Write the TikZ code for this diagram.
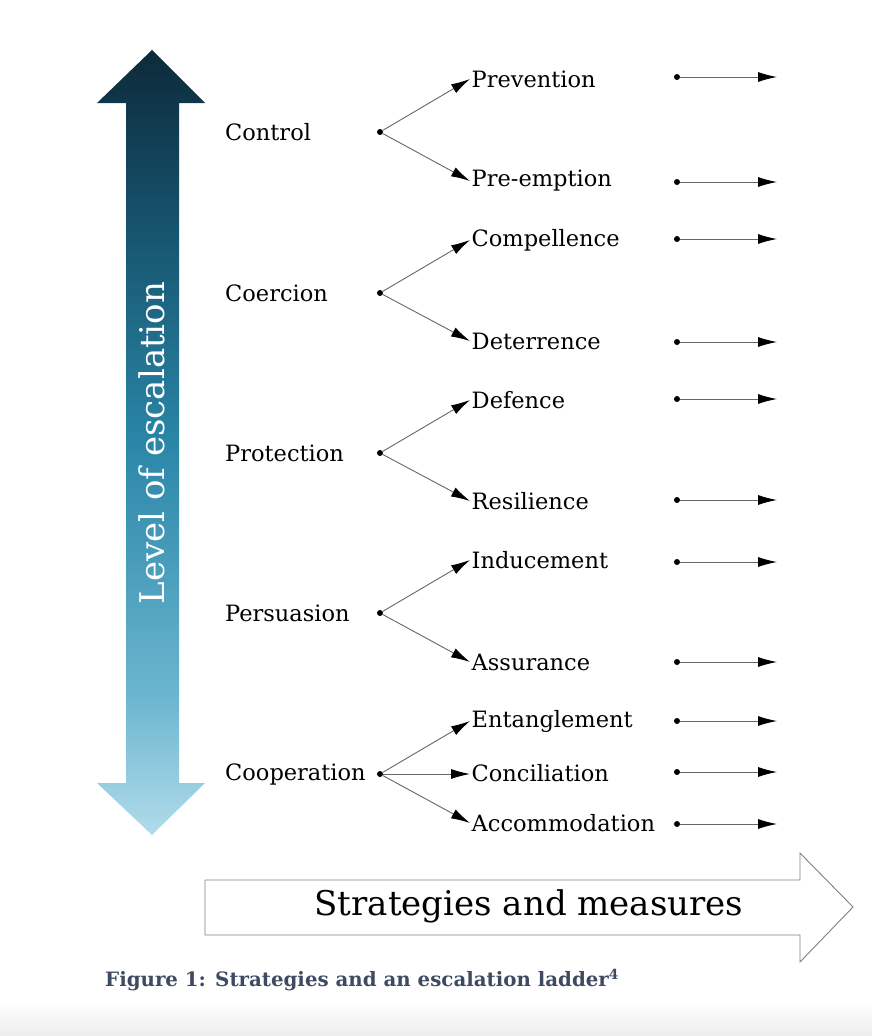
\documentclass[tikz,border=0pt]{standalone}
\usepackage{fontspec}
\setmainfont{DejaVu Serif}
\usepackage{xcolor}
\usetikzlibrary{arrows.meta,positioning}
\definecolor{ladderdark}{HTML}{0E2A3A}
\definecolor{ladderdeep}{HTML}{134B63}
\definecolor{laddermid}{HTML}{2A86A8}
\definecolor{ladderpale}{HTML}{6AB5CF}
\definecolor{ladderlight}{HTML}{B0DCEA}
\definecolor{captionblue}{HTML}{3E4A62}
\pgfdeclareverticalshading{escalation}{100bp}{color(0bp)=(ladderlight); color(25bp)=(ladderlight);
  color(34bp)=(ladderpale); color(50bp)=(laddermid); color(66bp)=(ladderdeep);
  color(75bp)=(ladderdark); color(100bp)=(ladderdark)}
\tikzset{
  strategy/.style={
    anchor=west,
    inner sep=0pt,
    font=\fontsize{22.5}{26}\selectfont
  },
  measure/.style={
    anchor=west,
    inner sep=1.5pt,
    font=\fontsize{22.5}{26}\selectfont
  },
  dot/.style={
    circle,
    fill=black,
    inner sep=0pt,
    minimum size=6pt
  },
  arrow/.style={-{Latex[length=19pt,width=10pt,black]}, draw=black!60, line width=0.9pt},
  outline/.style={draw=black!50, fill=white, line width=0.9pt}
}

\begin{document}
\begin{tikzpicture}[x=1pt,y=-1pt]
  \useasboundingbox (0,0) rectangle (872,1036);
  \shade[top color=white, bottom color=black!7] (0,1000) rectangle (872,1036);

  % escalation arrow
  \shade[shading=escalation]
    (152,50) -- (205,103) -- (179,103) -- (179,783) -- (205,783) -- (152,835)
    -- (97,783) -- (126,783) -- (126,103) -- (97,103) -- cycle;
  \node[rotate=90, text=white, font=\fontsize{34}{38}\selectfont] (level) at (152,443) {Level of escalation};

  % strategies
  \node[strategy] (control) at (225,132) {Control};
  \node[strategy] (coercion) at (225,293) {Coercion};
  \node[strategy] (protection) at (225,453) {Protection};
  \node[strategy] (persuasion) at (225,613) {Persuasion};
  \node[strategy] (cooperation) at (225,774) {Cooperation};

  \node[dot] (d-control) at (380,132) {};
  \node[dot] (d-coercion) at (380,293) {};
  \node[dot] (d-protection) at (380,453) {};
  \node[dot] (d-persuasion) at (380,613) {};
  \node[dot] (d-cooperation) at (380,774) {};

  % measures
  \node[measure] (prevention) at (470,79) {Prevention};
  \node[measure] (preemption) at (470,181) {Pre-emption};
  \node[measure] (compellence) at (470,240) {Compellence};
  \node[measure] (deterrence) at (470,341) {Deterrence};
  \node[measure] (defence) at (470,400) {Defence};
  \node[measure] (resilience) at (470,501) {Resilience};
  \node[measure] (inducement) at (470,560) {Inducement};
  \node[measure] (assurance) at (470,662) {Assurance};
  \node[measure] (entanglement) at (470,721) {Entanglement};
  \node[measure] (conciliation) at (470,773) {Conciliation};
  \node[measure] (accommodation) at (470,823) {Accommodation};

  \draw[arrow] (d-control) -- (prevention.west);
  \draw[arrow] (d-control) -- (preemption.west);
  \draw[arrow] (d-coercion) -- (compellence.west);
  \draw[arrow] (d-coercion) -- (deterrence.west);
  \draw[arrow] (d-protection) -- (defence.west);
  \draw[arrow] (d-protection) -- (resilience.west);
  \draw[arrow] (d-persuasion) -- (inducement.west);
  \draw[arrow] (d-persuasion) -- (assurance.west);
  \draw[arrow] (d-cooperation) -- (entanglement.west);
  \draw[arrow] (d-cooperation) -- (conciliation.west |- d-cooperation);
  \draw[arrow] (d-cooperation) -- (accommodation.west);

  % outgoing arrows
  \foreach \name/\y in {prevention/77, preemption/182, compellence/239, deterrence/342,
      defence/399, resilience/500, inducement/562, assurance/662,
      entanglement/721, conciliation/772, accommodation/824} {
    \node[dot] (s-\name) at (677,\y) {};
    \coordinate (e-\name) at (777,\y);
    \draw[arrow] (s-\name) -- (e-\name);
  }

  % strategies and measures arrow
  \draw[outline] (205,880) -- (800,880) -- (800,853) -- (853,907) -- (800,962)
    -- (800,935) -- (205,935) -- cycle;
  \node[font=\fontsize{34}{38}\selectfont] (axis) at (529,906) {Strategies and measures};

  \node[anchor=west, inner sep=0pt, text=captionblue, font=\fontsize{19.8}{23}\bfseries] (caption) at (105,980)
    {Figure 1: Strategies and an escalation ladder\textsuperscript{4}};
\end{tikzpicture}
\end{document}
